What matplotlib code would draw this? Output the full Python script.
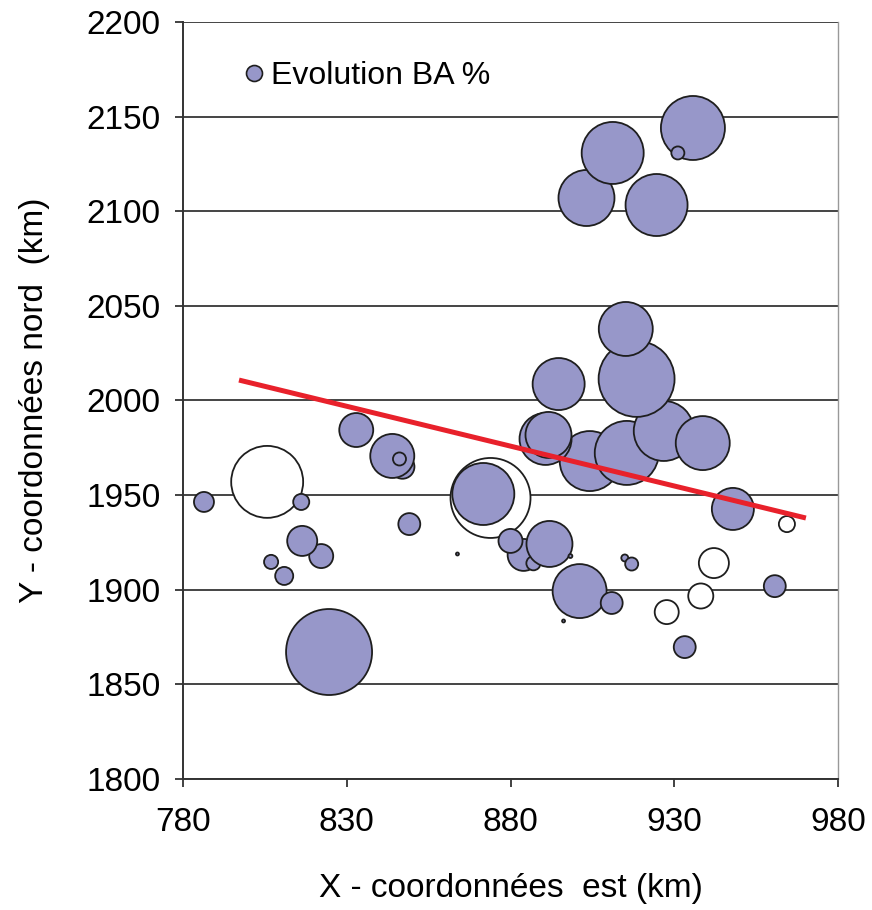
import numpy as np
import matplotlib
matplotlib.use("Agg")
import matplotlib.pyplot as plt
from matplotlib.lines import Line2D

plt.rcParams['font.family'] = ['Liberation Sans', 'DejaVu Sans']

# ---- data (draw order) ----
x_km = [824.6, 873.9, 871.7, 805.7, 904.2, 915.5, 926.8, 918.5, 938.7, 915.2,
        894.7, 890.7, 891.6, 935.7, 931.1, 903.2, 911.2, 924.6, 901.1, 910.9,
        947.9, 884.0, 887.0, 880.0, 891.9, 898.3, 847.0, 843.9, 846.1, 832.9,
        786.4, 816.1, 849.1, 822.2, 816.4, 806.9, 810.9, 863.8, 896.2, 914.9,
        917.0, 942.1, 938.1, 927.7, 933.2, 960.7, 964.4]
y_km = [1867.1, 1948.5, 1950.6, 1957.0, 1968.0, 1972.3, 1983.9, 2011.4, 1977.5, 2037.8,
        2008.7, 1979.7, 1981.8, 2144.0, 2130.8, 2107.0, 2130.8, 2103.3, 1899.3, 1893.0,
        1942.7, 1918.4, 1914.0, 1925.8, 1924.2, 1917.8, 1965.0, 1970.7, 1969.1, 1984.4,
        1946.4, 1946.4, 1934.7, 1917.8, 1925.8, 1914.7, 1907.3, 1918.9, 1883.5, 1916.8,
        1913.6, 1914.1, 1896.7, 1888.2, 1869.7, 1901.9, 1934.7]
evolution_ba = [100, -86.5, 52, -70, 48.7, 55.4, 48.7, 78, 39.4, 39.4,
                36.6, 36.6, 28.6, 55.4, 2.3, 42.4, 52, 52, 39.4, 6.5,
                23.9, 13.8, 2.7, 7.8, 28.6, 0.2, 7.8, 26.2, 2.3, 15.6,
                5.4, 3.5, 6.5, 7.8, 12.2, 2.7, 4.4, 0.12, 0.12, 0.66,
                2.3, -12.2, -8.5, -7.8, 6.5, 6.5, -3.5]

trend_x = [797.1, 970.2]
trend_y = [2010.8, 1937.9]

x_ticks = [780, 830, 880, 930, 980]
y_ticks = [1800, 1850, 1900, 1950, 2000, 2050, 2100, 2150, 2200]

# ---- style ----
purple = '#9797C9'
edge = '#1E1E1E'
DPI = 100
px_per_sqrt = 4.3  # bubble radius (px) per sqrt(|value|)

fig = plt.figure(figsize=(8.72, 9.10), dpi=DPI)
ax = fig.add_axes([183/872, 1 - 779/910, (838-183)/872, (779-22)/910])

vals = np.array(evolution_ba)
r_px = px_per_sqrt * np.sqrt(np.abs(vals))
sizes = (2 * r_px * 72 / DPI) ** 2
faces = [purple if v > 0 else 'white' for v in vals]

ax.scatter(x_km, y_km, s=sizes, c=faces, edgecolors=edge, linewidths=1.3, zorder=3)
ax.plot(trend_x, trend_y, color='#E8212B', linewidth=3.6, zorder=4,
        solid_capstyle='butt')

ax.set_xlim(780, 980)
ax.set_ylim(1800, 2200)
ax.set_xticks(x_ticks)
ax.set_yticks(y_ticks)
ax.tick_params(axis='both', labelsize=24, direction='out', length=6, width=1.3,
               color='#333333', pad=10)
ax.tick_params(axis='x', pad=14)
ax.yaxis.grid(True, color='#444444', linewidth=1.4, zorder=0)
ax.set_axisbelow(True)
for side in ['left', 'bottom']:
    ax.spines[side].set_color('#333333')
    ax.spines[side].set_linewidth(1.4)
ax.spines['top'].set_visible(False)
ax.spines['right'].set_color('#999999')
ax.spines['right'].set_linewidth(1.0)

ax.set_xlabel('X - coordonnées  est (km)', fontsize=24, labelpad=25)
ax.set_ylabel('Y - coordonnées nord  (km)', fontsize=24, labelpad=26)

handle = Line2D([], [], linestyle='none', marker='o', markersize=11.5,
                markerfacecolor=purple, markeredgecolor=edge, markeredgewidth=1.2)
ax.legend([handle], ['Evolution BA %'], loc='center left',
          bbox_to_anchor=(0.065, 0.929), frameon=False, fontsize=23,
          handletextpad=0.02, borderaxespad=0, handlelength=1.0)

fig.savefig('out.png', dpi=DPI)
